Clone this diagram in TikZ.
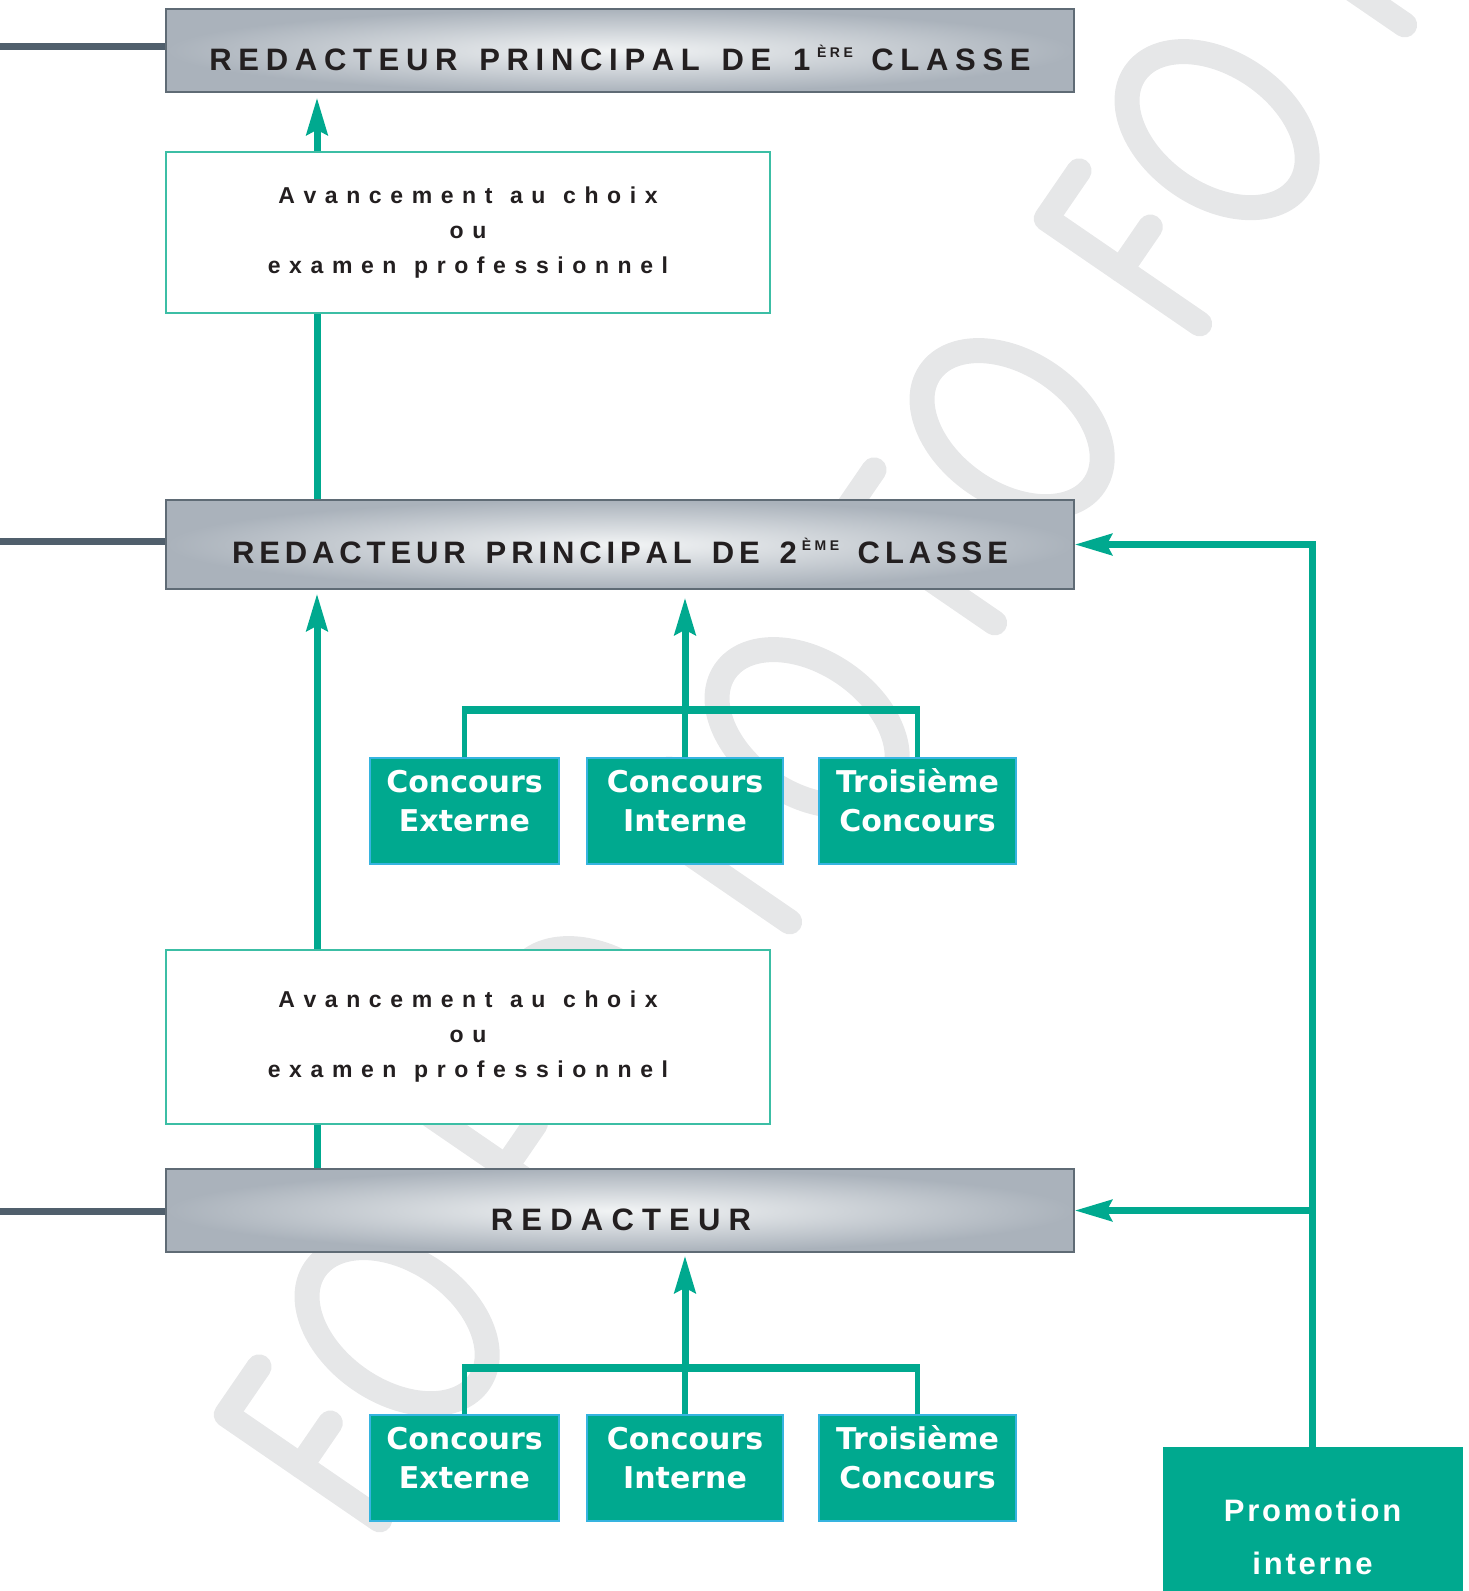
\documentclass[tikz,border=0pt]{standalone}
\usepackage{fontspec}
\setmainfont{Liberation Sans}
\newfontfamily\djv{DejaVu Sans}
\usetikzlibrary{arrows.meta}
\definecolor{tealc}{HTML}{00A98F}
\definecolor{txtdark}{HTML}{231F20}
\definecolor{hdrline}{HTML}{5F6B75}
\definecolor{hdrlight}{HTML}{F2F4F5}
\definecolor{hdrdark}{HTML}{AAB2BB}
\definecolor{barcol}{HTML}{505F6C}
\definecolor{advline}{HTML}{3CBEA5}
\definecolor{conline}{HTML}{36B4E0}
\definecolor{wmcol}{HTML}{E6E7E8}
\makeatletter
\newcommand{\lsp}[2]{\def\lsp@k{#1}\lsp@loop#2\@nil}
\def\lsp@loop#1{\ifx#1\@nil\else#1\kern\lsp@k\relax\expandafter\lsp@loop\fi}
\makeatother
\newcommand{\supr}[1]{\raisebox{12.5pt}{\fontsize{14}{14}\selectfont #1}}
\newcommand{\hs}{\hspace{15pt}}
\newcommand{\as}{\hspace{9pt}}
\newcommand{\av}[1]{\lsp{8.6pt}{#1}}
\begin{document}
\begin{tikzpicture}[x=1pt,y=-1pt,
  headbox/.style={draw=hdrline, line width=1.5pt, inner color=hdrlight, outer color=hdrdark, minimum width=908pt, inner sep=0pt},
  headtxt/.style={font=\fontsize{31}{31}\selectfont\bfseries, text=txtdark, anchor=base, inner sep=0pt},
  advbox/.style={draw=advline, line width=2pt, fill=white, minimum width=604pt, inner sep=0pt, align=center, text=txtdark, font=\fontsize{23}{35}\selectfont\bfseries},
  conbox/.style={draw=conline, line width=1.5pt, fill=tealc, minimum height=106pt, inner sep=0pt},
  contxt/.style={anchor=north, inner sep=0pt, align=center, text=white, font=\djv\fontsize{30}{39}\selectfont\bfseries},
  promobox/.style={draw=tealc, line width=1pt, fill=tealc, inner sep=0pt},
  promotxt/.style={anchor=north, inner sep=0pt, align=center, text=white, font=\fontsize{31}{53}\selectfont\bfseries},
  link/.style={draw=tealc, line width=7pt},
  drop/.style={draw=tealc, line width=5.5pt},
  bar/.style={draw=tealc, line width=8pt},
  arr/.style={link, -{Stealth[length=37pt,width=21pt,inset=5pt]}},
  leftbar/.style={draw=barcol, line width=7pt},
  wm/.style={draw=wmcol, line width=25pt, line cap=round, line join=round}
]
\useasboundingbox (0,0) rectangle (1469,1591);
\clip (0,0) rectangle (1469,1591);
% watermark
\foreach \k in {0,...,5}{
  \begin{scope}[shift={(390+205*\k,1527-299*\k)}, x={(0.566pt,0.825pt)}, y={(-0.825pt,0.566pt)}]
    \draw[wm] (0,12.5) -- (0,198.5) -- (58,198.5);
    \draw[wm] (0,108) -- (52,108);
    \draw[wm] (170,108) ellipse [x radius=65.5, y radius=99.5];
  \end{scope}
}
% headers
\node[headbox, minimum height=83pt] (h1) at (620,50.5) {};
\node[headbox, minimum height=89pt] (h2) at (620,544.5) {};
\node[headbox, minimum height=83pt] (h3) at (620,1210.5) {};
\node[headtxt] (h1t) at (620,70) {\lsp{6.7pt}{REDACTEUR}\hs\lsp{6.7pt}{PRINCIPAL}\hs\lsp{6.7pt}{DE}\hs\lsp{6.7pt}{1}\supr{\lsp{3.5pt}{ÈRE}}\hs\lsp{6.7pt}{CLASSE}\unkern};
\node[headtxt] (h2t) at (620,563) {\lsp{4.9pt}{REDACTEUR}\hs\lsp{4.9pt}{PRINCIPAL}\hs\lsp{4.9pt}{DE}\hs\lsp{4.9pt}{2}\supr{\lsp{3.5pt}{ÈME}}\hs\lsp{4.9pt}{CLASSE}\unkern};
\node[headtxt] (h3t) at (621,1230) {\lsp{8.2pt}{REDACTEUR}\unkern};
% avancement boxes
\node[advbox, minimum height=161pt] (a1) at (468,232.5) {\av{Avancement}\as\av{au}\as\av{choix}\unkern\\\av{ou}\unkern\\\av{examen}\as\av{professionnel}\unkern};
\node[advbox, minimum height=174pt] (a2) at (468,1037) {\av{Avancement}\as\av{au}\as\av{choix}\unkern\\\av{ou}\unkern\\\av{examen}\as\av{professionnel}\unkern};
% concours group 1
\node[conbox, minimum width=189pt] (ce1) at (464.5,811) {};
\node[conbox, minimum width=196pt] (ci1) at (685,811) {};
\node[conbox, minimum width=197pt] (tc1) at (917.5,811) {};
\node[contxt] (ce1t) at ([yshift=-5pt]ce1.north) {\rule{0pt}{30pt}Concours\\Externe};
\node[contxt] (ci1t) at ([yshift=-5pt]ci1.north) {\rule{0pt}{30pt}Concours\\Interne};
\node[contxt] (tc1t) at ([yshift=-5pt]tc1.north) {\rule{0pt}{30pt}Troisième\\Concours};
% concours group 2
\node[conbox, minimum width=189pt] (ce2) at (464.5,1468) {};
\node[conbox, minimum width=196pt] (ci2) at (685,1468) {};
\node[conbox, minimum width=197pt] (tc2) at (917.5,1468) {};
\node[contxt] (ce2t) at ([yshift=-5pt]ce2.north) {\rule{0pt}{30pt}Concours\\Externe};
\node[contxt] (ci2t) at ([yshift=-5pt]ci2.north) {\rule{0pt}{30pt}Concours\\Interne};
\node[contxt] (tc2t) at ([yshift=-5pt]tc2.north) {\rule{0pt}{30pt}Troisième\\Concours};
% promotion interne
\node[promobox, minimum width=299pt, minimum height=153pt] (pi) at (1312.5,1523.5) {};
\node[promotxt] (pit) at ([yshift=-45pt]pi.north) {\rule{0pt}{30pt}\lsp{2.8pt}{Promotion}\unkern\\\lsp{2.8pt}{interne}\unkern};
% left bars
\coordinate (l1) at (0,46.5);
\coordinate (l2) at (0,541);
\coordinate (l3) at (0,1211);
\draw[leftbar] (h1.west |- l1) -- (l1);
\draw[leftbar] (h2.west |- l2) -- (l2);
\draw[leftbar] (h3.west |- l3) -- (l3);
% left column connectors
\coordinate (vx) at (317,0);
\draw[arr, shorten >=5pt] (a1.north -| vx) -- (h1.south -| vx);
\draw[link] (h2.north -| vx) -- (a1.south -| vx);
\draw[arr, shorten >=4pt] (a2.north -| vx) -- (h2.south -| vx);
\draw[link] (h3.north -| vx) -- (a2.south -| vx);
% brackets
\coordinate (b1) at (685,710);
\coordinate (b2) at (685,1368);
\draw[drop] (ce1.north) -- (ce1.north |- b1);
\draw[drop] (tc1.north) -- (tc1.north |- b1);
\draw[drop] (ci1.north) -- (b1);
\draw[bar] ([xshift=-2.75pt]ce1.north |- b1) -- ([xshift=2.75pt]tc1.north |- b1);
\draw[arr, shorten >=8pt] (b1) -- (h2.south -| b1);
\draw[drop] (ce2.north) -- (ce2.north |- b2);
\draw[drop] (tc2.north) -- (tc2.north |- b2);
\draw[drop] (ci2.north) -- (b2);
\draw[bar] ([xshift=-2.75pt]ce2.north |- b2) -- ([xshift=2.75pt]tc2.north |- b2);
\draw[arr, shorten >=3pt] (b2) -- (h3.south -| b2);
% promotion connectors
\draw[arr] (pi.north) |- (h2.east);
\draw[arr] (pi.north |- h3.east) -- (h3.east);
\end{tikzpicture}
\end{document}
